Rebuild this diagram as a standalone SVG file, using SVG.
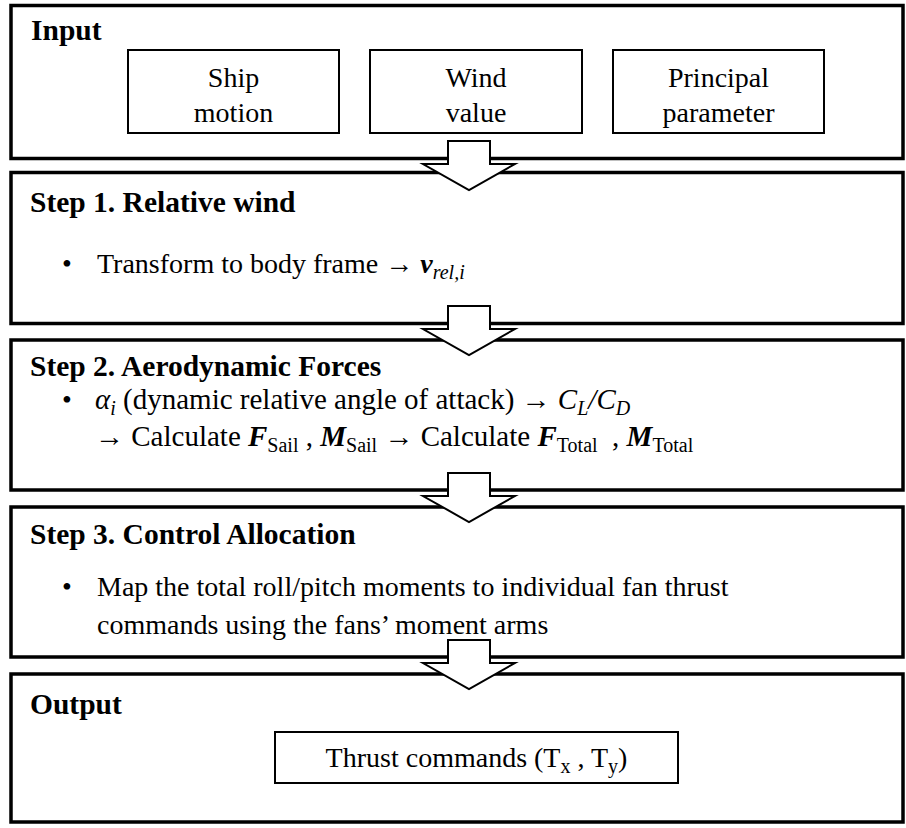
<svg xmlns="http://www.w3.org/2000/svg" width="906" height="828" viewBox="0 0 906 828">
<style>
.frame{fill:#fff;stroke:#000;stroke-width:3.5}
.box{fill:#fff;stroke:#000;stroke-width:2}
.arr{fill:#fff;stroke:#000;stroke-width:2;stroke-linejoin:miter}
text{font-family:"Liberation Serif","Times New Roman",serif;font-size:28px;fill:#000}
.t{font-weight:bold;font-size:29.5px}
.c{text-anchor:middle}
.bi{font-weight:bold;font-style:italic}
.i{font-style:italic}
.sub{font-size:20px}
.s2{font-size:29px}
</style>
<rect width="906" height="828" fill="#fff"/>
<g id="input">
<rect class="frame" x="11" y="5.5" width="892" height="153"/>
<text class="t" x="31" y="40">Input</text>
<g id="ship-motion"><rect class="box" x="128" y="50" width="211" height="83"/><text class="c" x="233.5" y="87">Ship</text><text class="c" x="233.5" y="122">motion</text></g>
<g id="wind-value"><rect class="box" x="370" y="50" width="212" height="83"/><text class="c" x="476" y="87">Wind</text><text class="c" x="476" y="122">value</text></g>
<g id="principal-parameter"><rect class="box" x="613" y="50" width="211" height="83"/><text class="c" x="718.5" y="87">Principal</text><text class="c" x="718.5" y="122">parameter</text></g>
</g>
<g id="step1">
<rect class="frame" x="11" y="172.5" width="892" height="151"/>
<text class="t" x="30" y="212">Step 1. Relative wind</text>
<text x="62" y="273">•</text>
<text x="97" y="273">Transform to body frame → <tspan class="bi">v</tspan><tspan class="i sub" dy="6">rel,i</tspan></text>
</g>
<g id="step2">
<rect class="frame" x="11" y="340" width="892" height="150"/>
<text class="t" x="30" y="376">Step 2. Aerodynamic Forces</text>
<text x="62" y="409">•</text>
<text class="s2" x="95" y="409"><tspan class="i">α</tspan><tspan class="i sub" dy="6">i</tspan><tspan dy="-6"> (dynamic relative angle of attack) → </tspan><tspan class="i">C</tspan><tspan class="i sub" dy="6">L</tspan><tspan class="i" dy="-6">/C</tspan><tspan class="i sub" dy="6">D</tspan></text>
<text class="s2" x="95" y="446">→ Calculate <tspan class="bi">F</tspan><tspan class="sub" dy="6">Sail</tspan><tspan dy="-6"> , </tspan><tspan class="bi">M</tspan><tspan class="sub" dy="6">Sail</tspan><tspan dy="-6"> → Calculate </tspan><tspan class="bi">F</tspan><tspan class="sub" dy="6">Total</tspan><tspan dy="-6" xml:space="preserve">  , </tspan><tspan class="bi">M</tspan><tspan class="sub" dy="6">Total</tspan></text>
</g>
<g id="step3">
<rect class="frame" x="11" y="507" width="892" height="150"/>
<text class="t" x="30" y="544">Step 3. Control Allocation</text>
<text x="62" y="596">•</text>
<text x="97" y="596">Map the total roll/pitch moments to individual fan thrust</text>
<text x="97" y="634">commands using the fans’ moment arms</text>
</g>
<g id="output">
<rect class="frame" x="11" y="674" width="892" height="148"/>
<text class="t" x="30" y="714">Output</text>
<g id="thrust-commands"><rect class="box" x="275" y="732" width="403" height="51"/>
<text class="c" x="476.5" y="767">Thrust commands (T<tspan class="sub" dy="6">x</tspan><tspan dy="-6"> , T</tspan><tspan class="sub" dy="6">y</tspan><tspan dy="-6">)</tspan></text></g>
</g>
<g id="connectors">
<path class="arr" d="M448,141 H490 V164 H515 L469,190 L423,164 H448 Z"/>
<path class="arr" d="M448,306 H490 V329 H515 L469,355 L423,329 H448 Z"/>
<path class="arr" d="M448,473 H490 V496 H515 L469,522 L423,496 H448 Z"/>
<path class="arr" d="M448,640 H490 V663 H515 L469,689 L423,663 H448 Z"/>
</g>
</svg>
